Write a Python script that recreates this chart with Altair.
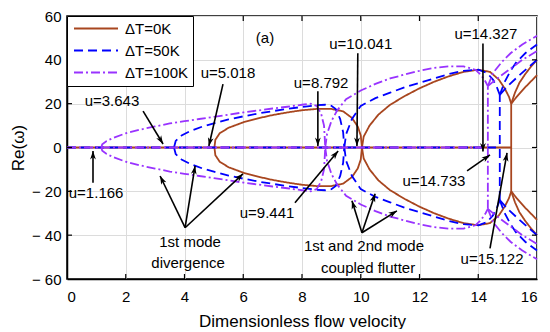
import math
import altair as alt
import pandas as pd

W, H = 470, 263
FONT = "Liberation Sans"

SERIES = ["ΔT=0K", "ΔT=50K", "ΔT=100K"]
COLORS = ["#A8461F", "#0000FF", "#9933FF"]
DASHES = [[1, 0], [9, 5], [9, 3, 2, 3]]

X_TICKS = [0, 2, 4, 6, 8, 10, 12, 14, 16]
Y_TICKS = [-60, -40, -20, 0, 20, 40, 60]

# ---- dT = 0K (upper halves; lower halves are the mirror images) ----
K0_ZERO_U = [0, 15.122]
K0_DIV_U = [5.018, 5.05, 5.2, 5.5, 6.0, 6.5, 7.0, 7.5, 8.0, 8.5, 9.0, 9.4, 9.7, 9.9, 10.0, 10.041]
K0_DIV_RE = [0, 3.5, 6.5, 9.0, 11.5, 13.3, 14.8, 16.0, 17.0, 17.6, 17.6, 16.5, 13.5, 9.5, 5.5, 0]
K0_FLU_U = [10.041, 10.1, 10.3, 10.6, 11.0, 11.5, 12.0, 12.5, 13.0, 13.5, 14.0, 14.4, 14.7, 14.9, 15.05, 15.122]
K0_FLU_RE = [0, 5, 10, 15, 19.5, 23.5, 27, 30, 32.5, 34.5, 35.5, 34.5, 31, 27, 23, 20]
K0_VERT_U = [15.122, 15.122]
K0_VERT_RE = [-20, 20]
K0_B1_U = [15.122, 15.25, 15.4, 15.6, 15.8, 16.0]
K0_B1_RE = [20, 25, 29.5, 33.5, 37, 40]
K0_B2_U = [15.122, 15.3, 15.6, 16.0]
K0_B2_RE = [20, 23, 27.5, 33]

# ---- dT = 50K ----
K50_ZERO_U = [0, 14.733]
K50_DIV_U = [3.643, 3.7, 3.9, 4.2, 4.6, 5.0, 5.5, 6.0, 6.5, 7.0, 7.5, 8.0, 8.5, 8.8, 9.0, 9.15, 9.3, 9.4, 9.441]
K50_DIV_RE = [0, 3, 5.5, 7.5, 9.5, 11, 12.8, 14.2, 15.5, 16.6, 17.6, 18.5, 19.3, 19.5, 19, 17.5, 13, 7, 0]
K50_FLU_U = [9.441, 9.5, 9.7, 10.0, 10.5, 11.0, 11.5, 12.0, 12.5, 13.0, 13.5, 14.0, 14.3, 14.5, 14.65, 14.733]
K50_FLU_RE = [0, 6, 13, 19, 22.5, 25, 27.5, 29.5, 31.5, 33.5, 35, 35.5, 34, 31, 27, 24]
K50_VERT_U = [14.733, 14.733]
K50_VERT_RE = [-24, 24]
K50_B1_U = [14.733, 14.9, 15.1, 15.3, 15.6, 16.0]
K50_B1_RE = [24, 30, 35, 39, 43, 47]
K50_B2_U = [14.733, 15.0, 15.4, 16.0]
K50_B2_RE = [24, 28, 33, 40]

# ---- dT = 100K ----
K100_ZERO_U = [0, 14.327]
K100_DIV_U = [1.166, 1.2, 1.35, 1.6, 2.0, 2.5, 3.0, 3.5, 4.0, 4.5, 5.0, 6.0, 7.0, 7.5, 8.0, 8.3, 8.5, 8.65, 8.75, 8.792]
K100_DIV_RE = [0, 1.5, 3.0, 4.5, 6.5, 8.2, 9.6, 11.0, 12.0, 13.0, 14.0, 16.0, 17.8, 18.6, 19.5, 20.0, 19.0, 15.5, 10, 0]
K100_FLU_U = [8.792, 8.85, 9.0, 9.2, 9.5, 10.0, 10.5, 11.0, 11.5, 12.0, 12.5, 13.0, 13.5, 13.9, 14.1, 14.25, 14.327]
K100_FLU_RE = [0, 6, 12, 17, 22, 26, 29, 31.5, 33.3, 35, 36.3, 37, 37, 35.5, 33, 30, 28]
K100_VERT_U = [14.327, 14.327]
K100_VERT_RE = [-28, 28]
K100_B1_U = [14.327, 14.5, 14.8, 15.1, 15.5, 16.0]
K100_B1_RE = [28, 34, 39, 43, 47, 51]
K100_B2_U = [14.327, 14.6, 15.0, 15.5, 16.0]
K100_B2_RE = [28, 31, 35, 40, 44]

# ---- annotations ----
LABEL_TEXT = ["u=1.166", "u=3.643", "u=5.018", "u=8.792", "u=10.041", "u=14.327",
               "u=9.441", "u=14.733", "u=15.122", "1st mode", "divergence",
               "1st and 2nd mode", "coupled  flutter", "(a)"]
LABEL_U = [0.99, 1.53, 5.48, 8.65, 10.0, 14.26, 6.81, 12.49, 14.47, 4.19, 4.12, 10.11, 10.25, 6.74]
LABEL_RE = [-20.7, 21.1, 33.9, 29.3, 47.0, 51.6, -29.8, -15.2, -51.1, -43.0, -52.5, -44.8, -54.8, 49.8]

ARROW_FROM_U = [0.885, 2.59, 5.31, 8.54, 9.9, 14.16, 7.76, 13.62, 14.4, 4.02, 4.02, 4.02, 10.04, 10.04, 10.04]
ARROW_FROM_RE = [-16.1, 16.6, 28.9, 25.7, 43.0, 47.5, -25.2, -10.7, -46.0, -36.6, -36.6, -36.6, -38.9, -38.9, -38.9]
ARROW_TO_U = [0.885, 3.27, 4.83, 8.54, 9.87, 14.16, 9.23, 14.4, 14.98, 3.17, 4.36, 5.99, 9.70, 10.49, 11.23]
ARROW_TO_RE = [-1.6, 1.6, 0.7, 0.7, 0.7, -1.8, -1.6, -3.4, -2.5, -13.0, -8.4, -12.0, -24.3, -21.1, -28.9]

# ---- build curve table ----
segments = {
    SERIES[0]: [(K0_ZERO_U, [0, 0], False), (K0_DIV_U, K0_DIV_RE, True), (K0_FLU_U, K0_FLU_RE, True),
                (K0_VERT_U, K0_VERT_RE, False), (K0_B1_U, K0_B1_RE, True), (K0_B2_U, K0_B2_RE, True)],
    SERIES[1]: [(K50_ZERO_U, [0, 0], False), (K50_DIV_U, K50_DIV_RE, True), (K50_FLU_U, K50_FLU_RE, True),
                (K50_VERT_U, K50_VERT_RE, False), (K50_B1_U, K50_B1_RE, True), (K50_B2_U, K50_B2_RE, True)],
    SERIES[2]: [(K100_ZERO_U, [0, 0], False), (K100_DIV_U, K100_DIV_RE, True), (K100_FLU_U, K100_FLU_RE, True),
                (K100_VERT_U, K100_VERT_RE, False), (K100_B1_U, K100_B1_RE, True), (K100_B2_U, K100_B2_RE, True)],
}
rows = []
for s in SERIES:
    for k, (us, rs, mirror) in enumerate(segments[s]):
        for i, (u, r) in enumerate(zip(us, rs)):
            rows.append({"u": u, "re": r, "series": s, "seg": f"{s}-{k}+", "i": i})
        if mirror:
            for i, (u, r) in enumerate(zip(us, rs)):
                rows.append({"u": u, "re": -r, "series": s, "seg": f"{s}-{k}-", "i": i})
curves = pd.DataFrame(rows)

X_ENC = alt.X("u:Q", scale=alt.Scale(domain=[0, 16], nice=False, zero=False),
              axis=alt.Axis(values=X_TICKS, format="d", title="Dimensionless flow velocity",
                            ticks=False, tickSize=0, labelPadding=10, titlePadding=9))
Y_ENC = alt.Y("re:Q", scale=alt.Scale(domain=[-60, 60], nice=False),
              axis=alt.Axis(values=Y_TICKS, title="Re(ω)", ticks=False, tickSize=0,
                            labelPadding=6, titlePadding=4,
                            labelExpr="datum.value < 0 ? '\u2212 ' + abs(datum.value) : datum.label"))

legend = alt.Legend(orient="top-left", title=None, symbolType="M-1,0L7,0", symbolSize=121,
                    symbolStrokeWidth=2, labelFontSize=15, labelFont=FONT, labelColor="black",
                    strokeColor="black", fillColor="white", padding=5, offset=0,
                    rowPadding=6, labelOffset=38, cornerRadius=0)

lines = alt.Chart(curves).mark_line(strokeWidth=1.8).encode(
    x=X_ENC, y=Y_ENC,
    color=alt.Color("series:N", scale=alt.Scale(domain=SERIES, range=COLORS), legend=legend),
    strokeDash=alt.StrokeDash("series:N", scale=alt.Scale(domain=SERIES, range=DASHES), legend=legend),
    detail="seg:N",
    order="i:Q",
)

xt = pd.DataFrame({"u": X_TICKS[1:-1]})
yt = pd.DataFrame({"re": Y_TICKS[1:-1]})
tick_style = dict(color="black", strokeWidth=1.2)
ticks_b = alt.Chart(xt).mark_rule(**tick_style).encode(x=X_ENC, y=alt.value(H), y2=alt.value(H - 5))
ticks_t = alt.Chart(xt).mark_rule(**tick_style).encode(x=X_ENC, y=alt.value(0), y2=alt.value(5))
ticks_l = alt.Chart(yt).mark_rule(**tick_style).encode(y=Y_ENC, x=alt.value(0), x2=alt.value(5))
ticks_r = alt.Chart(yt).mark_rule(**tick_style).encode(y=Y_ENC, x=alt.value(W), x2=alt.value(W - 5))

arr = pd.DataFrame({"u": ARROW_FROM_U, "re": ARROW_FROM_RE, "u2": ARROW_TO_U, "re2": ARROW_TO_RE})
sx, sy = W / 16.0, H / 120.0
arr["angle"] = [
    (math.degrees(math.atan2((b - a) * sx, (d - c) * sy)) + 360) % 360
    for a, b, c, d in zip(arr["u"], arr["u2"], arr["re"], arr["re2"])
]
arrow_lines = alt.Chart(arr).mark_rule(color="black", strokeWidth=1.6).encode(
    x=X_ENC, y=Y_ENC, x2="u2:Q", y2="re2:Q")
heads = pd.DataFrame({"u": ARROW_TO_U, "re": ARROW_TO_RE, "angle": arr["angle"]})
arrow_heads = alt.Chart(heads).mark_point(
    shape="M0,0L-0.55,1.6L0,1.15L0.55,1.6Z", filled=True, color="black", size=110, opacity=1
).encode(x=X_ENC, y=Y_ENC, angle=alt.Angle("angle:Q", scale=None))

labels = alt.Chart(pd.DataFrame({"u": LABEL_U, "re": LABEL_RE, "t": LABEL_TEXT})).mark_text(
    font=FONT, fontSize=15, color="black", align="center", baseline="middle"
).encode(x=X_ENC, y=Y_ENC, text="t:N")

chart = alt.layer(lines, ticks_b, ticks_t, ticks_l, ticks_r, arrow_lines, arrow_heads, labels).properties(
    width=W, height=H, autosize=alt.AutoSizeParams(type="none"),
    padding={"left": 59, "top": 8, "right": 5, "bottom": 50},
).configure_view(stroke="black", strokeWidth=1.5).configure_axis(
    grid=True, gridColor="#DCDCDC", gridWidth=1, domainColor="black", domainWidth=1.5,
    labelFont=FONT, labelFontSize=15, labelColor="black",
    titleFont=FONT, titleFontSize=17, titleFontWeight="normal", titleColor="black",
)

chart.save("out.html", embed_options={"renderer": "svg", "actions": False})
